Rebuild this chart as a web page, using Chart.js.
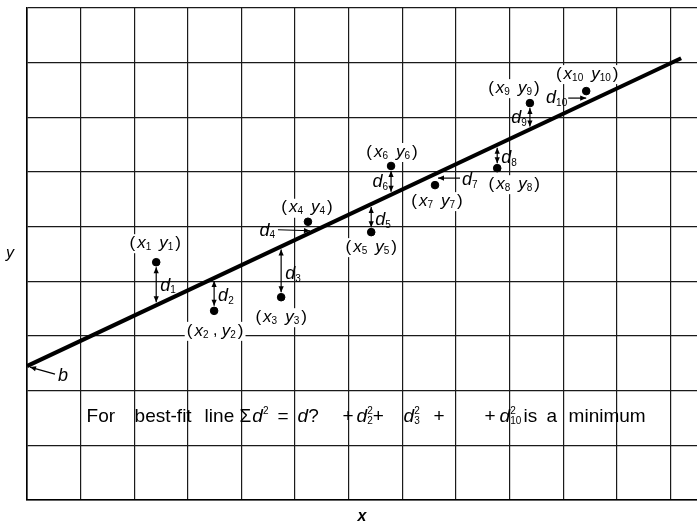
<!DOCTYPE html>
<html>
<head>
<meta charset="utf-8">
<script src="https://cdn.jsdelivr.net/npm/chart.js@4.4.0/dist/chart.umd.min.js"></script>
<style>
  html, body { margin: 0; padding: 0; background: #fff; overflow: hidden; }
  canvas { display: block; }
</style>
</head>
<body>
<canvas id="fitChart" width="702" height="525"></canvas>
<script>
// values in grid units
const pointX = [2.41, 3.49, 4.74, 5.24, 6.42, 6.79, 7.61, 8.77, 9.38, 10.43];
const pointY = [4.35, 3.46, 3.71, 5.09, 4.90, 6.11, 5.76, 6.07, 7.26, 7.48];
const fitX = [0, 12.2];
const fitY = [2.45, 8.08];
const xTicks = [0, 1, 2, 3, 4, 5, 6, 7, 8, 9, 10, 11, 12];
const yTicks = [0, 1, 2, 3, 4, 5, 6, 7, 8, 9];

// label placement (pixels, relative to each point)
const labelDx = [-1, 1, 0, -1, 0, 1, 2, 17, -16, 1];
const labelDy = [-19, 20, 20, -14, 15, -14, 16, 16, -15, -17];
// vertical d-arrows: point index -> side of the d label
const vArrows = [[0, 'r'], [1, 'r'], [2, 'r'], [4, 'r'], [5, 'l'], [7, 'r'], [8, 'l']];

const FONT = '"Liberation Sans", Arial, sans-serif';

function fitAt(x) {
  return fitY[0] + (fitY[1] - fitY[0]) * (x - fitX[0]) / (fitX[1] - fitX[0]);
}

function fontOf(p) {
  return (p.b ? 'bold ' : '') + (p.i ? 'italic ' : '') + p.s + 'px ' + FONT;
}

function widthOf(ctx, p) {
  if (p.gap) return p.gap;
  if (p.stack) {
    return Math.max(...p.stack.map(q => { ctx.font = fontOf(q); return ctx.measureText(q.t).width; }));
  }
  ctx.font = fontOf(p);
  return ctx.measureText(p.t).width;
}

function drawRuns(ctx, parts, x, y, align, bg) {
  const w = parts.reduce((a, p) => a + widthOf(ctx, p), 0);
  let cx = align === 'center' ? x - w / 2 : align === 'right' ? x - w : x;
  if (bg) {
    ctx.fillStyle = '#fff';
    ctx.fillRect(cx - 2, y - 9, w + 4, 19);
  }
  ctx.fillStyle = '#000';
  ctx.textBaseline = 'middle';
  ctx.textAlign = 'left';
  for (const p of parts) {
    const pw = widthOf(ctx, p);
    if (p.stack) {
      for (const q of p.stack) {
        ctx.font = fontOf(q);
        ctx.fillText(q.t, cx, y + (q.dy || 0));
      }
    } else if (!p.gap) {
      ctx.font = fontOf(p);
      ctx.fillText(p.t, cx, y + (p.dy || 0));
    }
    cx += pw;
  }
}

function pointLabel(i) {
  const n = String(i + 1);
  const mid = i === 1 ? { t: ' , ', s: 16 } : { gap: 8 };
  return [
    { t: '(', s: 17 }, { gap: 2 }, { t: 'x', s: 17, i: true }, { t: n, s: 10, dy: 4 },
    mid,
    { t: 'y', s: 17, i: true }, { t: n, s: 10, dy: 4 }, { gap: 2 }, { t: ')', s: 17 }
  ];
}

function dLabel(i) {
  return [{ t: 'd', s: 18, i: true }, { t: String(i + 1), s: 10, dy: 5 }];
}

function head(ctx, x1, y1, x2, y2) {
  const a = Math.atan2(y2 - y1, x2 - x1);
  const L = 6, W = 2.6;
  ctx.beginPath();
  ctx.moveTo(x2, y2);
  ctx.lineTo(x2 - L * Math.cos(a) + W * Math.sin(a), y2 - L * Math.sin(a) - W * Math.cos(a));
  ctx.lineTo(x2 - L * Math.cos(a) - W * Math.sin(a), y2 - L * Math.sin(a) + W * Math.cos(a));
  ctx.closePath();
  ctx.fill();
}

function arrow(ctx, x1, y1, x2, y2, both) {
  ctx.strokeStyle = '#000';
  ctx.fillStyle = '#000';
  ctx.lineWidth = 1.2;
  ctx.beginPath();
  ctx.moveTo(x1, y1);
  ctx.lineTo(x2, y2);
  ctx.stroke();
  head(ctx, x1, y1, x2, y2);
  if (both) head(ctx, x2, y2, x1, y1);
}

// formula pieces: offset from the start of the text, then the runs
const S = 19;
const sq = sub => ({ stack: [{ t: '2', s: 10, dy: -6 }, { t: sub, s: 10, dy: 4 }] });
const formula = [
  [0, [{ t: 'For', s: S }]],
  [48, [{ t: 'best-fit', s: S }]],
  [118, [{ t: 'line', s: S }]],
  [153, [{ t: 'Σ', s: S }, { gap: 1 }, { t: 'd', s: S, i: true }, { t: '2', s: 10, dy: -6 }]],
  [191, [{ t: '=', s: S }]],
  [211, [{ t: 'd', s: S, i: true }, { t: '?', s: S }]],
  [256, [{ t: '+', s: S }]],
  [270, [{ t: 'd', s: S, i: true }, sq('2'), { t: '+', s: S }]],
  [317, [{ t: 'd', s: S, i: true }, sq('3')]],
  [347, [{ t: '+', s: S }]],
  [398, [{ t: '+', s: S }]],
  [413, [{ t: 'd', s: S, i: true }, sq('10')]],
  [437, [{ t: 'is', s: S }]],
  [460, [{ t: 'a', s: S }]],
  [482, [{ t: 'minimum', s: S }]]
];

const overlay = {
  id: 'overlay',
  beforeDatasetsDraw(chart) {
    const ctx = chart.ctx;
    const sx = chart.scales.x, sy = chart.scales.y;
    ctx.save();
    pointX.forEach((x, i) => {
      const px = sx.getPixelForValue(x) + labelDx[i];
      const py = sy.getPixelForValue(pointY[i]) + labelDy[i];
      drawRuns(ctx, pointLabel(i), px, py, 'center', true);
    });
    ctx.restore();
  },
  afterDatasetsDraw(chart) {
    const ctx = chart.ctx;
    const sx = chart.scales.x, sy = chart.scales.y;
    ctx.save();

    // vertical residual arrows
    vArrows.forEach(([i, side]) => {
      const px = sx.getPixelForValue(pointX[i]);
      const py = sy.getPixelForValue(pointY[i]);
      const ly = sy.getPixelForValue(fitAt(pointX[i]));
      const dir = ly > py ? 1 : -1;
      arrow(ctx, px, py + dir * 5, px, ly - dir * 3, true);
      const my = (py + ly) / 2 + 2;
      if (side === 'r') drawRuns(ctx, dLabel(i), px + 4, my, 'left');
      else drawRuns(ctx, dLabel(i), px - 3, my, 'right');
    });

    // d4, d7, d10 horizontal arrows
    let px = sx.getPixelForValue(pointX[3]), py = sy.getPixelForValue(pointY[3]);
    arrow(ctx, px - 30, py + 8, px + 2, py + 9);
    drawRuns(ctx, dLabel(3), px - 33, py + 9, 'right');

    px = sx.getPixelForValue(pointX[6]); py = sy.getPixelForValue(pointY[6]);
    arrow(ctx, px + 25, py - 7, px + 3, py - 7);
    drawRuns(ctx, dLabel(6), px + 27, py - 5, 'left');

    px = sx.getPixelForValue(pointX[9]); py = sy.getPixelForValue(pointY[9]);
    arrow(ctx, px - 18, py + 7, px, py + 7);
    drawRuns(ctx, dLabel(9), px - 19, py + 7, 'right');

    // intercept b
    const bx = sx.getPixelForValue(fitX[0]), by = sy.getPixelForValue(fitY[0]);
    arrow(ctx, bx + 28, by + 8, bx + 3, by + 1);
    drawRuns(ctx, [{ t: 'b', s: 18, i: true }], bx + 31, by + 10, 'left');

    // axis names
    const area = chart.chartArea;
    drawRuns(ctx, [{ t: 'y', s: 16, i: true }], 10, (area.top + area.bottom) / 2, 'center');
    drawRuns(ctx, [{ t: 'x', s: 16, i: true, b: true }], 362, area.bottom + 17, 'center');

    // formula line
    const fx = sx.getPixelForValue(1) + 6;
    const fy = sy.getPixelForValue(1.5) - 1;
    formula.forEach(([dx, parts]) => drawRuns(ctx, parts, fx + dx, fy, 'left'));

    ctx.restore();
  }
};

const gridStyle = { color: '#1a1a1a', lineWidth: 1.2, drawTicks: false };

new Chart(document.getElementById('fitChart').getContext('2d'), {
  type: 'scatter',
  data: {
    datasets: [
      {
        type: 'line',
        data: fitX.map((x, i) => ({ x: x, y: fitY[i] })),
        borderColor: '#000',
        borderWidth: 4,
        pointRadius: 0,
        fill: false
      },
      {
        data: pointX.map((x, i) => ({ x: x, y: pointY[i] })),
        backgroundColor: '#000',
        borderColor: '#000',
        pointRadius: 3.8,
        pointHoverRadius: 3.8
      }
    ]
  },
  options: {
    responsive: false,
    animation: false,
    events: [],
    layout: { padding: { left: 27, top: 8, right: 0, bottom: 25 } },
    plugins: { legend: { display: false }, tooltip: { enabled: false } },
    scales: {
      x: {
        type: 'linear', min: 0, max: 12.5,
        ticks: { display: false },
        grid: gridStyle,
        border: { display: true, color: '#000', width: 1.6 },
        afterBuildTicks: s => { s.ticks = xTicks.map(v => ({ value: v })); }
      },
      y: {
        type: 'linear', min: 0, max: 9,
        ticks: { display: false },
        grid: gridStyle,
        border: { display: true, color: '#000', width: 1.6 },
        afterBuildTicks: s => { s.ticks = yTicks.map(v => ({ value: v })); }
      }
    }
  },
  plugins: [overlay]
});
</script>
</body>
</html>
